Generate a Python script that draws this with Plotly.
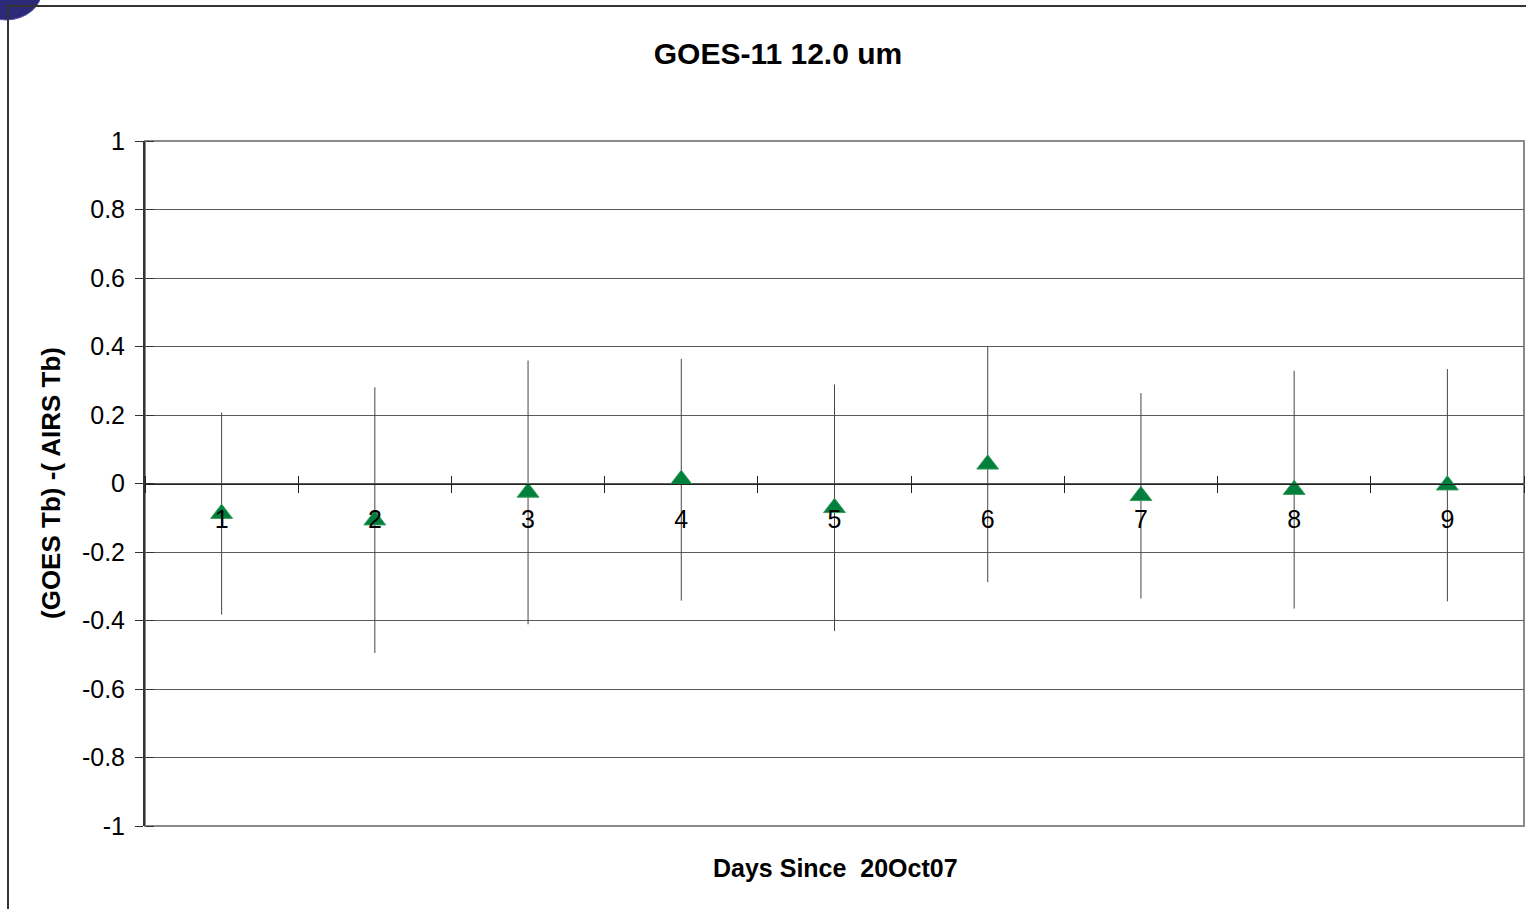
import plotly.graph_objects as go

# ---- data ----
days = ["1", "2", "3", "4", "5", "6", "7", "8", "9"]
bias = [-0.088, -0.107, -0.026, 0.011, -0.071, 0.056, -0.036, -0.018, -0.005]
std_dev = [0.295, 0.388, 0.385, 0.353, 0.360, 0.344, 0.300, 0.347, 0.339]
y_ticks = [-1, -0.8, -0.6, -0.4, -0.2, 0, 0.2, 0.4, 0.6, 0.8, 1]
y_tick_text = ["-1", "-0.8", "-0.6", "-0.4", "-0.2", "0", "0.2", "0.4", "0.6", "0.8", "1"]

FONT = "Arial, Liberation Sans, Helvetica, sans-serif"

fig = go.Figure()

fig.add_trace(go.Scatter(
    x=days, y=bias,
    mode="markers",
    marker=dict(symbol="triangle-up", size=19, color="#00803c",
                line=dict(color="#3a9a5e", width=1)),
    error_y=dict(type="data", array=std_dev, visible=True,
                 color="#454545", thickness=1, width=0),
    showlegend=False, hoverinfo="x+y",
))

# invisible helper trace so the overlay axes (inner half of crossing ticks) are drawn
fig.add_trace(go.Scatter(
    x=days, y=bias, xaxis="x2", yaxis="y2",
    mode="markers", marker=dict(opacity=0), showlegend=False, hoverinfo="skip",
))

W, H = 1526, 909
L, R, T, B = 145, 2, 141, 83
PW, PH = W - L - R, H - T - B

def px2x(px):
    return (px - L) / PW

def py2y(py):
    return (H - B - py) / PH

fig.update_layout(
    width=W, height=H,
    margin=dict(l=L, r=R, t=T, b=B, pad=0),
    paper_bgcolor="white", plot_bgcolor="white",
    font=dict(family=FONT, color="black"),
    title=dict(text="<b>GOES-11 12.0 um</b>", font=dict(size=30, family=FONT, color="black"),
               x=778 / W, xref="container", xanchor="center",
               y=1 - 53 / H, yref="container", yanchor="middle"),
    xaxis=dict(
        type="category", categoryorder="array", categoryarray=days,
        range=[-0.5, 8.5],
        anchor="free", position=0.5,
        showline=True, linecolor="#222222", linewidth=1,
        ticks="outside", ticklen=8, tickwidth=1, tickcolor="#222222",
        tickson="boundaries",
        showgrid=False, zeroline=False,
        tickfont=dict(size=25, family=FONT, color="black"),
        ticklabelstandoff=13,
        layer="above traces",
    ),
    xaxis2=dict(
        type="category", categoryorder="array", categoryarray=days,
        range=[-0.5, 8.5], overlaying="x", matches="x",
        anchor="free", position=0.5, side="top",
        showline=False, ticks="outside", ticklen=8, tickwidth=1, tickcolor="#222222",
        tickson="boundaries", showticklabels=False, showgrid=False, zeroline=False,
    ),
    yaxis=dict(
        range=[-1, 1], tickvals=y_ticks, ticktext=y_tick_text,
        showline=True, linecolor="#333333", linewidth=2,
        ticks="outside", ticklen=8, tickwidth=1, tickcolor="#333333",
        showgrid=True, gridcolor="#5a5a5a", gridwidth=1,
        zeroline=False,
        tickfont=dict(size=25, family=FONT, color="black"),
        ticklabelstandoff=5,
    ),
    yaxis2=dict(
        range=[-1, 1], overlaying="y", matches="y", side="right", anchor="free", position=0,
        tickvals=y_ticks, showticklabels=False,
        ticks="outside", ticklen=8, tickwidth=1, tickcolor="#333333",
        showgrid=False, zeroline=False, showline=False,
    ),
    annotations=[
        dict(text="<b>(GOES Tb) -( AIRS Tb)</b>", textangle=-90,
             xref="paper", yref="paper", x=px2x(51), y=py2y(483),
             xanchor="center", yanchor="middle", showarrow=False,
             font=dict(size=26, family=FONT, color="black")),
        dict(text="<b>Days Since  20Oct07</b>",
             xref="paper", yref="paper", x=px2x(835), y=py2y(868),
             xanchor="center", yanchor="middle", showarrow=False,
             font=dict(size=25, family=FONT, color="black")),
    ],
    shapes=[
        # plot-area border
        dict(type="rect", xref="paper", yref="paper", x0=0, x1=1, y0=0, y1=1,
             line=dict(color="#8a8a8a", width=2), layer="below"),
        # logo fragment in the corner
        dict(type="circle", xref="paper", yref="paper",
             x0=px2x(-30), x1=px2x(42), y0=py2y(20), y1=py2y(-40),
             fillcolor="#2c2a78", line=dict(color="#5a58a8", width=1), layer="below"),
        # outer chart border
        dict(type="rect", xref="paper", yref="paper",
             x0=px2x(8), x1=px2x(1540), y0=py2y(930), y1=py2y(6),
             line=dict(color="#333333", width=2), fillcolor="rgba(0,0,0,0)", layer="above"),
    ],
)

fig.write_html("out.html")
